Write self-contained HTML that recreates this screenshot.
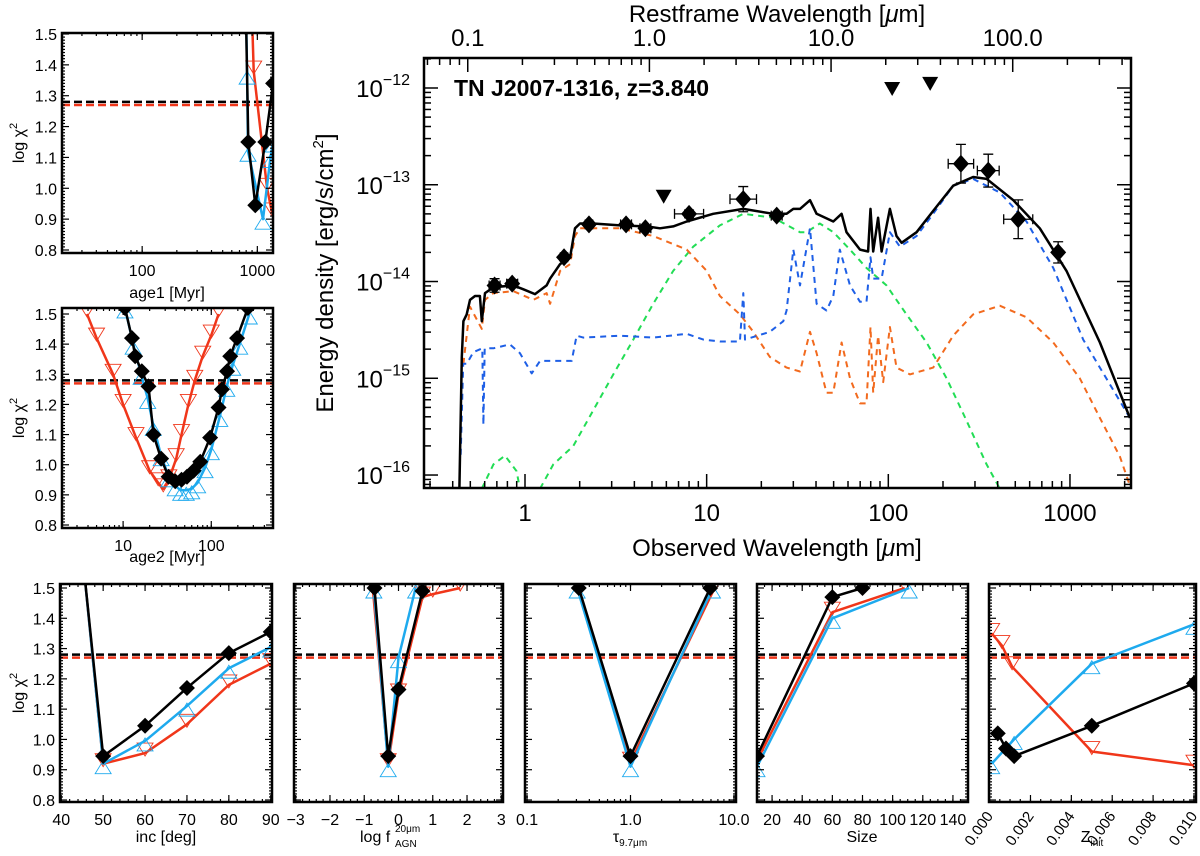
<!DOCTYPE html>
<html><head><meta charset="utf-8"><style>
html,body{margin:0;padding:0;background:#fff;}
svg{display:block;font-family:"Liberation Sans",sans-serif;}
</style></head><body>
<svg id="fig" width="1200" height="856" viewBox="0 0 1200 856" xmlns="http://www.w3.org/2000/svg"></svg>
<script>
// ---------- main SED data ----------
const photWave=[0.68,0.85,1.64,2.25,3.6,4.6,8.0,15.9,24.3,251,355,519,861];
const photFlux=[9.1e-15,9.5e-15,1.78e-14,3.9e-14,3.9e-14,3.55e-14,5.0e-14,7.1e-14,4.8e-14,1.65e-13,1.4e-13,4.4e-14,2.0e-14];
const photXerrDex=[0.03,0.03,0.02,0.02,0.03,0.03,0.08,0.073,0.03,0.07,0.06,0.08,0.0];
const photYerrDex=[0.07,0.04,0.03,0.03,0.03,0.03,0.04,0.13,0.03,0.2,0.17,0.2,0.11];
const limWave=[5.8,105,170];
const limFlux=[7.7e-14,1.0e-12,1.13e-12];
const totLogX=[-0.361,-0.348,-0.339,-0.321,-0.303,-0.275,-0.248,-0.238,-0.220,-0.174,-0.064,-0.009,0.055,0.119,0.138,0.193,0.248,0.275,0.303,0.376,0.523,0.670,0.743,0.816,0.890,1.036,1.202,1.367,1.440,1.477,1.514,1.569,1.605,1.697,1.743,1.770,1.844,1.889,1.902,1.917,1.944,1.963,2.009,2.045,2.073,2.156,2.247,2.357,2.467,2.541,2.688,2.834,2.981,3.165,3.330];
const totLogF=[-16.14,-14.78,-14.41,-14.34,-14.19,-14.15,-14.15,-14.41,-14.12,-14.06,-14.04,-14.08,-14.13,-14.04,-13.97,-13.82,-13.75,-13.45,-13.40,-13.40,-13.42,-13.43,-13.45,-13.43,-13.38,-13.30,-13.25,-13.30,-13.30,-13.25,-13.25,-13.16,-13.30,-13.38,-13.30,-13.49,-13.67,-13.69,-13.25,-13.69,-13.34,-13.69,-13.25,-13.53,-13.60,-13.49,-13.27,-13.01,-12.92,-12.94,-13.16,-13.45,-13.89,-14.63,-15.41];
const starLogX=[-0.339,-0.303,-0.238,-0.220,-0.174,-0.064,0.046,0.119,0.138,0.193,0.248,0.275,0.303,0.523,0.706,0.890,1.000,1.073,1.183,1.257,1.348,1.440,1.514,1.569,1.605,1.660,1.697,1.743,1.789,1.844,1.880,1.902,1.917,1.944,1.972,2.009,2.045,2.119,2.247,2.357,2.467,2.614,2.761,2.908,3.054,3.165,3.275,3.330];
const starLogF=[-14.85,-14.26,-14.49,-14.19,-14.12,-14.10,-14.19,-14.12,-14.23,-13.89,-13.82,-13.53,-13.45,-13.45,-13.53,-13.67,-13.89,-14.15,-14.34,-14.52,-14.78,-14.89,-14.93,-14.52,-14.74,-15.15,-15.15,-14.63,-15.00,-15.26,-15.26,-14.47,-15.15,-14.56,-15.04,-14.47,-14.89,-14.96,-14.89,-14.56,-14.34,-14.25,-14.37,-14.63,-15.00,-15.41,-15.81,-16.11];
const agnLogX=[-0.354,-0.340,-0.321,-0.284,-0.235,-0.229,-0.222,-0.174,-0.083,-0.028,0.037,0.083,0.156,0.257,0.284,0.321,0.523,0.706,0.890,0.982,1.073,1.183,1.202,1.211,1.348,1.422,1.440,1.477,1.514,1.569,1.605,1.660,1.697,1.733,1.789,1.844,1.880,1.902,1.917,1.963,2.009,2.064,2.156,2.247,2.357,2.467,2.614,2.761,2.908,3.073,3.330];
const agnLogF=[-15.79,-14.85,-14.85,-14.73,-14.69,-15.48,-14.69,-14.69,-14.65,-14.74,-14.95,-14.82,-14.82,-14.82,-14.56,-14.58,-14.56,-14.58,-14.54,-14.60,-14.62,-14.62,-14.12,-14.60,-14.52,-14.41,-14.30,-13.67,-14.04,-13.45,-14.23,-14.30,-14.15,-13.67,-14.04,-14.21,-14.21,-13.75,-13.97,-13.97,-13.49,-13.64,-13.53,-13.30,-13.01,-12.94,-13.08,-13.38,-13.86,-14.60,-15.41];
const sbLogX1=[-0.238,-0.174,-0.110,-0.046,-0.028];
const sbLogF1=[-16.14,-15.89,-15.80,-15.96,-16.14];
const sbLogX2=[0.083,0.156,0.266,0.376,0.486,0.596,0.706,0.816,0.926,1.073,1.202,1.367,1.514,1.550,1.623,1.697,1.789,1.880,1.990,2.100,2.211,2.321,2.431,2.541,2.614];
const sbLogF2=[-16.14,-15.89,-15.70,-15.33,-14.96,-14.60,-14.23,-13.89,-13.64,-13.42,-13.30,-13.34,-13.49,-13.49,-13.40,-13.49,-13.67,-13.86,-14.04,-14.34,-14.63,-15.00,-15.44,-15.89,-16.14];
// ---------- chi2 panel data ----------
const age1BlkX=[800,834,960,1172,1370], age1BlkY=[1.52,1.15,0.945,1.15,1.34];
const age1CyX=[800,815,830,1120,1300,1370], age1CyY=[1.55,1.37,1.12,0.9,1.1,1.15];
const age1RdX=[900,930,1216,1343], age1RdY=[1.55,1.38,1.0,0.92];
const age2BlkX=[10.5,12.6,13.7,16.3,19.4,22.1,27,32.8,39,46,53,63,75,97,121,132,151,164,196,260];
const age2BlkY=[1.52,1.42,1.36,1.31,1.26,1.1,1.02,0.96,0.945,0.95,0.96,0.98,1.01,1.09,1.19,1.25,1.31,1.36,1.42,1.52];
const age2CyX=[10.5,13,16,19,22,27,33,39,45,52,60,70,85,100,125,150,175,210,270];
const age2CyY=[1.52,1.4,1.3,1.22,1.13,1.03,0.96,0.93,0.915,0.915,0.92,0.94,0.99,1.05,1.16,1.26,1.33,1.4,1.5];
const age2RdX=[3.9,5,7.7,10,14,20,25,28.5,33,40,46,55,65,80,100,121];
const age2RdY=[1.5,1.42,1.3,1.2,1.09,0.98,0.94,0.92,0.95,1.02,1.1,1.2,1.28,1.36,1.43,1.5];
const incX=[45.5,50,60,70,80,90];
const incBlkY=[1.55,0.945,1.045,1.17,1.285,1.355];
const incCyY=[1.55,0.92,0.995,1.11,1.235,1.305];
const incRdY=[1.55,0.92,0.955,1.05,1.18,1.25];
const fagnBlkX=[-0.7,-0.3,0,0.7], fagnBlkY=[1.5,0.945,1.165,1.49];
const fagnCyX=[-0.72,-0.3,0,0.5], fagnCyY=[1.5,0.91,1.27,1.5];
const fagnRdX=[-0.75,-0.3,0,0.7,1.0,1.8], fagnRdY=[1.5,0.92,1.15,1.47,1.48,1.5];
const tauBlkX=[0.316,1.0,5.9], tauBlkY=[1.5,0.945,1.5];
const tauCyX=[0.305,1.0,6.2], tauCyY=[1.5,0.91,1.5];
const tauRdX=[0.31,1.0,6.5], tauRdY=[1.5,0.925,1.5];
const sizeBlkX=[10,60,80], sizeBlkY=[0.945,1.47,1.5];
const sizeCyX=[10,60,111], sizeCyY=[0.91,1.4,1.5];
const sizeRdX=[10,60,108], sizeRdY=[0.93,1.42,1.5];
const zBlkX=[0.0004,0.0008,0.0012,0.005,0.010], zBlkY=[1.02,0.97,0.945,1.045,1.185];
const zCyX=[0.0001,0.0012,0.005,0.010], zCyY=[0.92,1.0,1.25,1.38];
const zRdX=[0.0001,0.0006,0.0011,0.005,0.010], zRdY=[1.35,1.31,1.24,0.96,0.915];
const thrBlack=1.28, thrRed=1.27;

const NS="http://www.w3.org/2000/svg";
const svg=document.getElementById('fig');
function mk(tag,attrs,parent){const e=document.createElementNS(NS,tag);for(const k in attrs)e.setAttribute(k,attrs[k]);(parent||svg).appendChild(e);return e;}
const BLK="#000",CY="#1eaaee",RD="#f0361a",OR="#f26a1e",BL="#1e5fe6",GR="#22dd55";

function pathD(xs,ys,sx,sy){let d="";for(let i=0;i<xs.length;i++){d+=(i?"L":"M")+sx(xs[i]).toFixed(1)+","+sy(ys[i]).toFixed(1);}return d;}
let clipN=0;
function clipFor(b){const id="c"+(clipN++);const cp=mk('clipPath',{id:id});mk('rect',{x:b[0],y:b[1],width:b[2]-b[0],height:b[3]-b[1]},cp);return "url(#"+id+")";}

function chiPanel(name,b,xlog,xd,yTop,yBot,xTicks,xMinor,xLabels,xLabFmt,showY,xtitle,rot){
  const g=mk('g',{});
  
  
  const sx=xlog?(v=>b[0]+(Math.log10(v)-xd[0])/(xd[1]-xd[0])*(b[2]-b[0])):(v=>b[0]+(v-xd[0])/(xd[1]-xd[0])*(b[2]-b[0]));
  const sy=v=>yTop+(1.5-v)/0.7*(yBot-yTop);
  const clip=clipFor(b);
  const t1=mk('line',{x1:b[0],x2:b[2],y1:sy(thrBlack),y2:sy(thrBlack),stroke:BLK,'stroke-width':2.5,'stroke-dasharray':'8,4'},g);
  
  
  const t2=mk('line',{x1:b[0],x2:b[2],y1:sy(thrRed),y2:sy(thrRed),stroke:RD,'stroke-width':2.5,'stroke-dasharray':'8,4'},g);
  
  
  const dg=mk('g',{'clip-path':clip},g);
  return {g,dg,sx,sy,b,draw(){
    mk('rect',{x:b[0],y:b[1],width:b[2]-b[0],height:b[3]-b[1],fill:'none',stroke:'#000','stroke-width':2.5},g);
    for(let i=0;i<=70;i++){const v=0.8+i*0.01;const y=sy(v);if(y<b[1]||y>b[3])continue;const L=(i%10===0)?7:3;
      mk('line',{x1:b[0],x2:b[0]+L,y1:y,y2:y,stroke:'#000','stroke-width':1.2},g);mk('line',{x1:b[2],x2:b[2]-L,y1:y,y2:y,stroke:'#000','stroke-width':1.2},g);
      if(showY&&i%10===0){const t=mk('text',{x:b[0]-5,y:y+6,'text-anchor':'end','font-size':16},g);t.textContent=v.toFixed(1);}}
    xMinor.forEach(v=>{const x=sx(v);if(x<b[0]-0.5||x>b[2]+0.5)return;mk('line',{x1:x,x2:x,y1:b[3],y2:b[3]-3,stroke:'#000','stroke-width':1.2},g);mk('line',{x1:x,x2:x,y1:b[1],y2:b[1]+3,stroke:'#000','stroke-width':1.2},g);});
    xTicks.forEach((v,i)=>{const x=sx(v);mk('line',{x1:x,x2:x,y1:b[3],y2:b[3]-7,stroke:'#000','stroke-width':1.2},g);mk('line',{x1:x,x2:x,y1:b[1],y2:b[1]+7,stroke:'#000','stroke-width':1.2},g);
      if(xLabels){let t;if(rot){t=mk('text',{x:x+4,y:b[3]+14,'text-anchor':'end','font-size':15,transform:`rotate(-55 ${x+4} ${b[3]+14})`},g);}else{t=mk('text',{x:x,y:b[3]+23,'text-anchor':'middle','font-size':16},g);}t.textContent=xLabels[i];}});
    if(showY){const t=mk('text',{x:0,y:0,'font-size':16,'text-anchor':'middle',transform:`translate(24 ${(b[1]+b[3])/2}) rotate(-90)`},g);t.innerHTML='log χ<tspan dy="-7" font-size="11">2</tspan>';}
  }};
}
function series(p,xs,ys,col,w,marker,name){
  const e=mk('path',{d:pathD(xs,ys,p.sx,p.sy),fill:'none',stroke:col,'stroke-width':w,'stroke-linejoin':'round'},p.dg);
  
  
  xs.forEach((v,i)=>{const x=p.sx(v),y=p.sy(ys[i]);let m;
    if(marker==='d'){m=mk('path',{d:`M${x},${y-8}L${x+8},${y}L${x},${y+8}L${x-8},${y}Z`,fill:'#000'},p.dg);}
    else if(marker==='u'){m=mk('path',{d:`M${x},${y-3}L${x+8},${y+10}L${x-8},${y+10}Z`,fill:'none',stroke:col,'stroke-width':0.9},p.dg);}
    else{m=mk('path',{d:`M${x},${y+3}L${x+8},${y-10}L${x-8},${y-10}Z`,fill:'none',stroke:col,'stroke-width':0.9},p.dg);}
    
    });
}
function range(a,b,s){const r=[];for(let v=a;v<=b+1e-9;v+=s)r.push(+v.toFixed(6));return r;}
function logMinor(a,b){const r=[];for(let d=a;d<=b;d++)for(let k=1;k<10;k++)r.push(k*Math.pow(10,d));return r;}

const yT1=34,yB1=250,yT2=314,yB2=525,yT3=588,yB3=800;
const pA=chiPanel('age1-panel',[62,33,273,253],true,[1.304,3.136],yT1,yB1,[100,1000],logMinor(1,3),['100','1000'],null,true);
series(pA,age1RdX,age1RdY,RD,2.5,'v','age1-red');series(pA,age1CyX,age1CyY,CY,2.5,'u','age1-cyan');series(pA,age1BlkX,age1BlkY,BLK,2.5,'d','age1-black');pA.draw();
const pB=chiPanel('age2-panel',[62,308,273,528],true,[0.307,2.70],yT2,yB2,[10,100],logMinor(0,2),['10','100'],null,true);
series(pB,age2RdX,age2RdY,RD,2.5,'v','age2-red');series(pB,age2CyX,age2CyY,CY,2.5,'u','age2-cyan');series(pB,age2BlkX,age2BlkY,BLK,2.5,'d','age2-black');pB.draw();
const p1=chiPanel('inc-panel',[60,584,272,802],false,[39.7,90.3],yT3,yB3,range(40,90,10),range(40,90,2),['40','50','60','70','80','90'],null,true);
series(p1,incX,incRdY,RD,2.5,'v','inc-red');series(p1,incX,incCyY,CY,2.5,'u','inc-cyan');series(p1,incX,incBlkY,BLK,2.5,'d','inc-black');p1.draw();
const p2=chiPanel('fagn-panel',[294,584,503,802],false,[-3.05,3.05],yT3,yB3,range(-3,3,1),range(-3,3,0.2),['−3','−2','−1','0','1','2','3'],null,false);
series(p2,fagnRdX,fagnRdY,RD,2.5,'v','fagn-red');series(p2,fagnCyX,fagnCyY,CY,2.5,'u','fagn-cyan');series(p2,fagnBlkX,fagnBlkY,BLK,2.5,'d','fagn-black');p2.draw();
const p3=chiPanel('tau-panel',[525,584,736,802],true,[-1.02,1.02],yT3,yB3,[0.1,1,10],logMinor(-1,1),['0.1','1.0','10.0'],null,false);
series(p3,tauRdX,tauRdY,RD,2.5,'v','tau-red');series(p3,tauCyX,tauCyY,CY,2.5,'u','tau-cyan');series(p3,tauBlkX,tauBlkY,BLK,2.5,'d','tau-black');p3.draw();
const p4=chiPanel('size-panel',[757,584,968,802],false,[10,150],yT3,yB3,range(20,140,20),range(10,150,5),['20','40','60','80','100','120','140'],null,false);
series(p4,sizeRdX,sizeRdY,RD,2.5,'v','size-red');series(p4,sizeCyX,sizeCyY,CY,2.5,'u','size-cyan');series(p4,sizeBlkX,sizeBlkY,BLK,2.5,'d','size-black');p4.draw();
const p5=chiPanel('zinit-panel',[989,584,1196,802],false,[-0.00003,0.0101],yT3,yB3,range(0,0.01,0.002),range(0,0.01,0.0005),['0.000','0.002','0.004','0.006','0.008','0.010'],null,false,null,true);
series(p5,zRdX,zRdY,RD,2.5,'v','z-red');series(p5,zCyX,zCyY,CY,2.5,'u','z-cyan');series(p5,zBlkX,zBlkY,BLK,2.5,'d','z-black');p5.draw();

function xlabel(x,y,html,name){const t=mk('text',{x:x,y:y,'text-anchor':'middle','font-size':16});t.innerHTML=html;
  
  }
xlabel(167,298,'age1  [Myr]','age1-axis-title');
xlabel(167,562,'age2  [Myr]','age2-axis-title');
xlabel(166,842,'inc [deg]','inc-axis-title');
const fg=mk('text',{x:360,y:842,'font-size':16});
fg.innerHTML='log  f<tspan x="395" y="832" font-size="10">20μm</tspan><tspan x="395" y="847" font-size="10">AGN</tspan>';


xlabel(630,842,'τ<tspan font-size="10" dy="4">9.7μm</tspan>','tau-axis-title');
xlabel(862,842,'Size','size-axis-title');
xlabel(1092,842,'Z<tspan font-size="10" dy="4">init</tspan>','zinit-axis-title');

// ---------- main SED panel ----------
const MB=[424,58,1131,488];
const mx=lx=>MB[0]+(lx+0.556)/(3.336+0.556)*(MB[2]-MB[0]);
const my=lf=>MB[1]+(-11.69-lf)/(16.134-11.69)*(MB[3]-MB[1]);
const mclip=clipFor(MB);
const mg=mk('g',{'clip-path':mclip});


function mline(xs,ys,col,w,dash,name){const e=mk('path',{d:pathD(xs,ys,mx,my),fill:'none',stroke:col,'stroke-width':w,'stroke-dasharray':dash||'none','stroke-linejoin':'round'},mg);
  
  }
mline(sbLogX1,sbLogF1,GR,2,'6,5','starburst-curve-a');
mline(sbLogX2,sbLogF2,GR,2,'6,5','starburst-curve');
mline(starLogX,starLogF,OR,2,'6,5','stellar-curve');
mline(agnLogX,agnLogF,BL,2,'6,5','agn-torus-curve');
mline(totLogX,totLogF,BLK,2.5,null,'total-model-curve');
photWave.forEach((w,i)=>{const lx=Math.log10(w),lf=Math.log10(photFlux[i]);const x=mx(lx),y=my(lf);
  const g=mk('g',{},mg);
  
  
  const xe=photXerrDex[i],ye=photYerrDex[i];
  if(xe>0){const x1=mx(lx-xe),x2=mx(lx+xe);mk('path',{d:`M${x1},${y}L${x2},${y}M${x1},${y-5}L${x1},${y+5}M${x2},${y-5}L${x2},${y+5}`,stroke:'#000','stroke-width':1.3,fill:'none'},g);}
  const y1=my(lf+ye),y2=my(lf-ye);mk('path',{d:`M${x},${y1}L${x},${y2}M${x-5},${y1}L${x+5},${y1}M${x-5},${y2}L${x+5},${y2}`,stroke:'#000','stroke-width':1.3,fill:'none'},g);
  mk('path',{d:`M${x},${y-9}L${x+8},${y}L${x},${y+9}L${x-8},${y}Z`,fill:'#000'},g);});
limWave.forEach((w,i)=>{const x=mx(Math.log10(w)),y=my(Math.log10(limFlux[i]));
  const e=mk('path',{d:`M${x-8},${y-6}L${x+8},${y-6}L${x},${y+8}Z`,fill:'#000'},mg);
  
  });
mk('rect',{x:MB[0],y:MB[1],width:MB[2]-MB[0],height:MB[3]-MB[1],fill:'none',stroke:'#000','stroke-width':2.5});
for(let d=-17;d<=-11;d++){for(let k=1;k<10;k++){const lf=d+Math.log10(k);const y=my(lf);if(y<MB[1]||y>MB[3])continue;const L=k===1?14:7;
  mk('line',{x1:MB[0],x2:MB[0]+L,y1:y,y2:y,stroke:'#000','stroke-width':1.5});mk('line',{x1:MB[2],x2:MB[2]-L,y1:y,y2:y,stroke:'#000','stroke-width':1.5});
  if(k===1){const t=mk('text',{x:410,y:y+9,'text-anchor':'end','font-size':24});t.innerHTML=`10<tspan dy="-12" font-size="16">−${-d}</tspan>`;
    
    }}}
for(let d=-1;d<=3;d++){for(let k=1;k<10;k++){const lx=d+Math.log10(k);const x=mx(lx);if(x<MB[0]||x>MB[2])continue;const L=k===1?14:7;
  mk('line',{x1:x,x2:x,y1:MB[3],y2:MB[3]-L,stroke:'#000','stroke-width':1.5});
  if(k===1&&d>=0){const t=mk('text',{x:x,y:521,'text-anchor':'middle','font-size':24});t.textContent=String(Math.pow(10,d));
    
    }}}
const zred=3.84;const off=Math.log10(1+zred);const restLab=['0.1','1.0','10.0','100.0'];
for(let d=-2;d<=2;d++){for(let k=1;k<10;k++){const lx=d+Math.log10(k)+off;const x=mx(lx);if(x<MB[0]||x>MB[2])continue;const L=k===1?14:7;
  mk('line',{x1:x,x2:x,y1:MB[1],y2:MB[1]+L,stroke:'#000','stroke-width':1.5});
  if(k===1&&d>=-1){const t=mk('text',{x:x,y:46,'text-anchor':'middle','font-size':24});t.textContent=restLab[d+1];
    
    }}}
const tt=mk('text',{x:777,y:22,'text-anchor':'middle','font-size':24});tt.innerHTML='Restframe  Wavelength  [<tspan font-style="italic">μ</tspan>m]';


const bt=mk('text',{x:777,y:556,'text-anchor':'middle','font-size':24});bt.innerHTML='Observed  Wavelength  [<tspan font-style="italic">μ</tspan>m]';


const yt=mk('text',{x:0,y:0,'text-anchor':'middle','font-size':24,transform:'translate(333 273) rotate(-90)'});yt.innerHTML='Energy  density  [erg/s/cm<tspan dy="-10" font-size="15">2</tspan><tspan dy="10">]</tspan>';


const ti=mk('text',{x:454,y:96,'font-size':23,'font-weight':'bold'});ti.textContent='TN J2007-1316, z=3.840';


</script>
</body></html>
